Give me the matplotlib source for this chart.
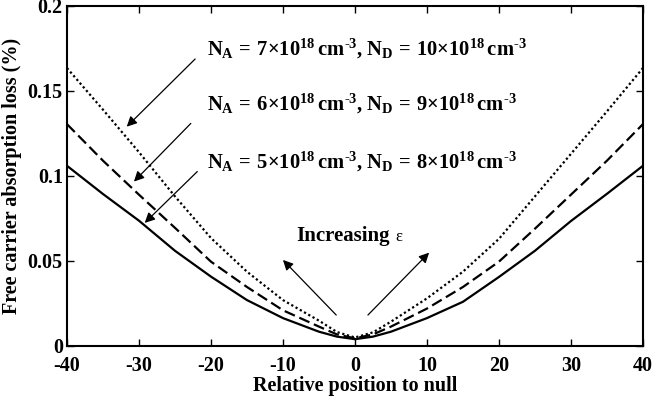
import numpy as np
import matplotlib
matplotlib.use("Agg")
import matplotlib.pyplot as plt
import matplotlib.ticker as mticker

# ─── Style ────────────────────────────────────────────────────────────────────
matplotlib.rcParams.update({
    "font.family":        ["Liberation Serif", "DejaVu Serif"],
    "font.weight":        "bold",
    "axes.labelweight":   "bold",
    "axes.unicode_minus": False,
    "mathtext.fontset":   "custom",
    "mathtext.rm":        "Liberation Serif:bold",
    "mathtext.it":        "Liberation Serif:bold",
    "mathtext.bf":        "Liberation Serif:bold",
    "xtick.direction":    "in",
    "ytick.direction":    "in",
    "xtick.top":          True,
    "ytick.right":        True,
})

# ─── Data ─────────────────────────────────────────────────────────────────────
position = [-40, -35, -30, -25, -20, -15, -10, -5, -2.5, 0, 2.5, 5, 10, 15, 20, 25, 30, 35, 40]

loss_5_8 = [0.106, 0.0894, 0.0737, 0.056, 0.0408, 0.027, 0.0164, 0.0084, 0.0055, 0.004,
            0.0055, 0.0084, 0.0164, 0.026, 0.0406, 0.056, 0.0735, 0.0895, 0.106]
loss_6_9 = [0.1305, 0.109, 0.089, 0.0695, 0.0496, 0.0347, 0.021, 0.0114, 0.0068, 0.0045,
            0.0068, 0.0114, 0.022, 0.0347, 0.0496, 0.069, 0.089, 0.109, 0.1305]
loss_7_10 = [0.1635, 0.139, 0.114, 0.088, 0.0635, 0.0437, 0.027, 0.0149, 0.0082, 0.005,
             0.0080, 0.0143, 0.028, 0.0437, 0.063, 0.088, 0.113, 0.138, 0.1635]

x_ticks = [-40, -30, -20, -10, 0, 10, 20, 30, 40]
y_ticks = [0, 0.05, 0.1, 0.15, 0.2]

labels = [
    r"$N_A\,{=}\,7{\times}10^{18}\,cm^{\text{-3}}{,}\;N_D\,{=}\,10{\times}10^{18}\,cm^{\text{-3}}$",
    r"$N_A\,{=}\,6{\times}10^{18}\,cm^{\text{-3}}{,}\;N_D\,{=}\,9{\times}10^{18}\,cm^{\text{-3}}$",
    r"$N_A\,{=}\,5{\times}10^{18}\,cm^{\text{-3}}{,}\;N_D\,{=}\,8{\times}10^{18}\,cm^{\text{-3}}$",
]


def main():
    fig = plt.figure(figsize=(6.54, 3.98), dpi=100)
    ax = fig.add_axes([0.1024, 0.1307, 0.8807, 0.8543])

    ax.plot(position, loss_5_8, color="black", lw=1.6, ls="-")
    ax.plot(position, loss_6_9, color="black", lw=1.6, ls=(0, (5, 2.2)))
    ax.plot(position, loss_7_10, color="black", lw=1.6, ls=(0, (1, 1.2)))

    ax.set_xlim(-40, 40)
    ax.set_ylim(0, 0.2)
    ax.set_xticks(x_ticks)
    ax.set_yticks(y_ticks)
    ax.yaxis.set_major_formatter(mticker.FormatStrFormatter("%g"))
    ax.tick_params(labelsize=14.5, length=5, width=1.0)
    ax.tick_params(axis="x", pad=7)
    ax.tick_params(axis="y", pad=3)
    for lab in ax.get_xticklabels() + ax.get_yticklabels():
        lab.set_fontweight("bold")
    for sp in ax.spines.values():
        sp.set_linewidth(1.5)

    ax.set_xlabel("Relative position to null", fontsize=14.5, fontweight="bold", labelpad=0)
    ax.set_ylabel("Free carrier absorption loss (%)", fontsize=14.5, fontweight="bold", labelpad=4)

    # Annotations: doping labels with arrows
    arrow_kw = dict(arrowstyle="-|>", color="black", lw=0.9, mutation_scale=15,
                    shrinkA=0, shrinkB=0)
    text_y = [0.1712, 0.1388, 0.1047]
    arrow_from = [(-22.2, 0.1688), (-22.8, 0.1309), (-21.9, 0.1026)]
    arrow_to = [(-31.7, 0.1290), (-30.7, 0.0967), (-29.2, 0.0724)]
    for lab, ty, a0, a1 in zip(labels, text_y, arrow_from, arrow_to):
        ax.text(-20.6, ty, lab, fontsize=14.8, va="baseline", ha="left")
        ax.annotate("", xy=a1, xytext=a0, arrowprops=arrow_kw)

    # Increasing epsilon
    ax.text(-8.1, 0.0618, "Increasing", fontsize=15, fontweight="bold", va="baseline", ha="left")
    ax.text(5.6, 0.0618, "\u03b5", fontsize=12, fontweight="normal", va="baseline", ha="left")
    ax.annotate("", xy=(-10.0, 0.0506), xytext=(-2.6, 0.0182), arrowprops=arrow_kw)
    ax.annotate("", xy=(10.3, 0.0549), xytext=(1.8, 0.0182), arrowprops=arrow_kw)

    fig.savefig("out.png", dpi=100)
    plt.close(fig)


if __name__ == "__main__":
    main()
